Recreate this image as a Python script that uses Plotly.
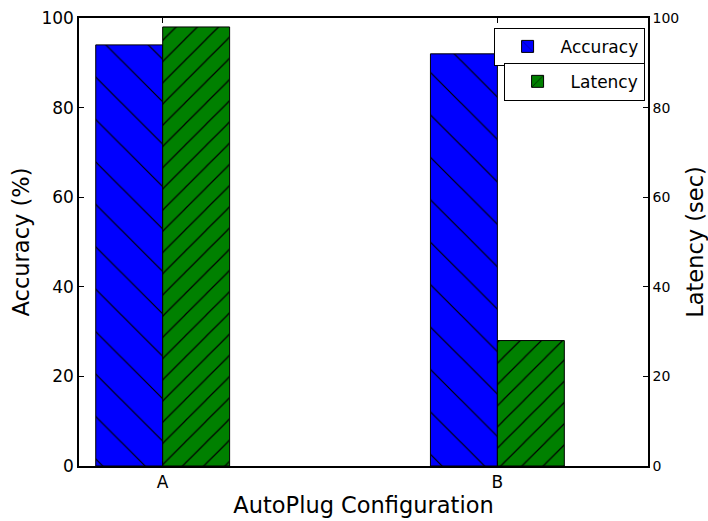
import plotly.graph_objects as go

categories = ["A", "B"]
accuracy = [94, 92]
latency = [98, 28]
left_ticks = [0, 20, 40, 60, 80, 100]
right_ticks = [0, 20, 40, 60, 80, 100]

FONT = "DejaVu Sans"

fig = go.Figure()
fig.add_trace(go.Bar(
    x=categories, y=accuracy, name="Accuracy", yaxis="y",
    width=0.2, offset=-0.2,
    marker=dict(color="#0000ff", line=dict(color="black", width=1),
                pattern=dict(shape="\\", fgcolor="black", bgcolor="#0000ff",
                             size=30, solidity=0.04, fillmode="replace")),
    legend="legend",
))
fig.add_trace(go.Bar(
    x=categories, y=latency, name="Latency", yaxis="y2",
    width=0.2, offset=0.0,
    marker=dict(color="#008000", line=dict(color="black", width=1),
                pattern=dict(shape="/", fgcolor="black", bgcolor="#008000",
                             size=15, solidity=0.08, fillmode="replace")),
    legend="legend2",
))

fig.update_layout(
    width=708, height=521,
    margin=dict(l=79, r=60, t=18, b=55),
    plot_bgcolor="white", paper_bgcolor="white",
    font=dict(family=FONT, color="black"),
    barmode="overlay",
    xaxis=dict(
        range=[-0.25, 1.45], type="category", automargin=False,
        showline=True, linecolor="black", linewidth=1.5, mirror="ticks",
        ticks="inside", ticklen=5, tickcolor="black",
        tickfont=dict(size=17, family=FONT),
        title=dict(text="AutoPlug Configuration", font=dict(size=22.5, family=FONT), standoff=6),
        showgrid=False, zeroline=False,
    ),
    yaxis=dict(
        range=[0, 100], tickvals=left_ticks, automargin=False,
        showline=True, linecolor="black", linewidth=1.5,
        ticks="inside", ticklen=5, tickcolor="black",
        tickfont=dict(size=17, family=FONT),
        title=dict(text="Accuracy (%)", font=dict(size=22.5, family=FONT), standoff=6),
        showgrid=False, zeroline=False,
    ),
    yaxis2=dict(
        range=[0, 100], tickvals=right_ticks, overlaying="y", side="right",
        automargin=False,
        showline=True, linecolor="black", linewidth=1.5,
        ticks="inside", ticklen=5, tickcolor="black",
        tickfont=dict(size=14, family=FONT),
        title=dict(text="Latency (sec)", font=dict(size=22.5, family=FONT), standoff=10),
        showgrid=False, zeroline=False,
    ),
    legend=dict(x=0.994, y=0.978, xanchor="right", yanchor="top",
                bgcolor="white", bordercolor="black", borderwidth=1,
                itemwidth=56,
                font=dict(size=17, family=FONT)),
    legend2=dict(x=0.994, y=0.9, xanchor="right", yanchor="top",
                 bgcolor="white", bordercolor="black", borderwidth=1,
                 itemwidth=56,
                 font=dict(size=17, family=FONT)),
    showlegend=True,
)

fig.write_html("out.html")
